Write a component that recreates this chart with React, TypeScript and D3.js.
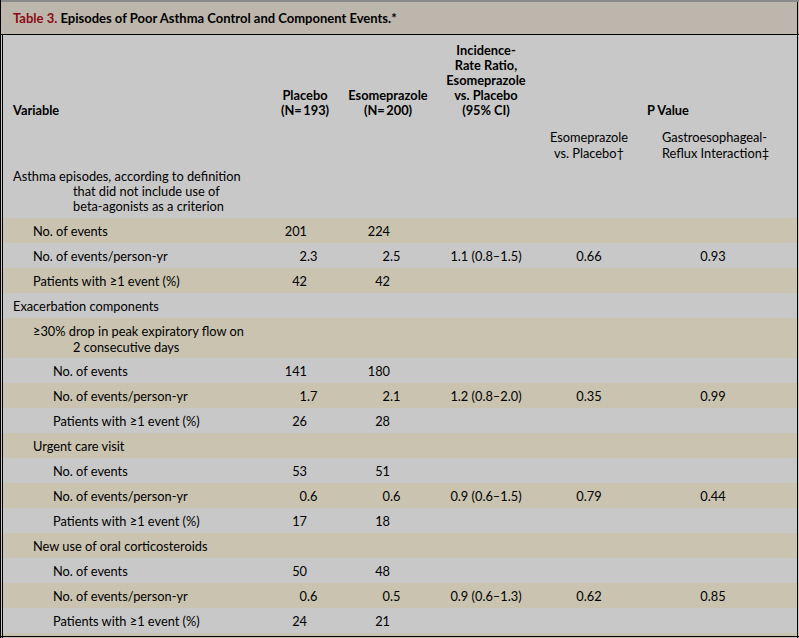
import React from "react";
import * as d3 from "d3";

const titleLabel = "Table 3.";
const titleText = "Episodes of Poor Asthma Control and Component Events.*";

const rowLabels: string[][] = [
  ["Asthma episodes, according to definition", "that did not include use of", "beta-agonists as a criterion"],
  ["No. of events"],
  ["No. of events/person-yr"],
  ["Patients with \u22651 event (%)"],
  ["Exacerbation components"],
  ["\u226530% drop in peak expiratory flow on", "2 consecutive days"],
  ["No. of events"],
  ["No. of events/person-yr"],
  ["Patients with \u22651 event (%)"],
  ["Urgent care visit"],
  ["No. of events"],
  ["No. of events/person-yr"],
  ["Patients with \u22651 event (%)"],
  ["New use of oral corticosteroids"],
  ["No. of events"],
  ["No. of events/person-yr"],
  ["Patients with \u22651 event (%)"],
];
const rowLevels = [0, 1, 1, 1, 0, 1, 2, 2, 2, 1, 2, 2, 2, 1, 2, 2, 2];
const placeboValues = ["", "201", "2.3", "42", "", "", "141", "1.7", "26", "", "53", "0.6", "17", "", "50", "0.6", "24"];
const esomeprazoleValues = ["", "224", "2.5", "42", "", "", "180", "2.1", "28", "", "51", "0.6", "18", "", "48", "0.5", "21"];
const irrValues = ["", "", "1.1 (0.8\u20131.5)", "", "", "", "", "1.2 (0.8\u20132.0)", "", "", "", "0.9 (0.6\u20131.5)", "", "", "", "0.9 (0.6\u20131.3)", ""];
const pEsoValues = ["", "", "0.66", "", "", "", "", "0.35", "", "", "", "0.79", "", "", "", "0.62", ""];
const pGerdValues = ["", "", "0.93", "", "", "", "", "0.99", "", "", "", "0.44", "", "", "", "0.85", ""];

const headPlacebo = ["Placebo", "(N=\u2009193)"];
const headEso = ["Esomeprazole", "(N=\u2009200)"];
const headIrr = ["Incidence-", "Rate Ratio,", "Esomeprazole", "vs. Placebo", "(95% CI)"];
const headP = "P Value";
const headPEso = ["Esomeprazole", "vs. Placebo\u2020"];
const headPGerd = ["Gastroesophageal-", "Reflux Interaction\u2021"];

const FONT = "Lato, 'DejaVu Sans', sans-serif";
const TAN = "#c9c3b0";
const GRAY = "#c8c8c8";
const BAND = "#bdb6ac";

export default function App() {
  const W = 799, H = 638;
  const rowH = rowLabels.map((l, i) => (i === 0 ? 56 : l.length === 1 ? 25 : 40));
  const tops: number[] = [];
  let acc = 162;
  rowH.forEach((h) => { tops.push(acc); acc += h; });
  const bodyEnd = acc;

  const xLevel = d3.scaleLinear().domain([0, 1]).range([13, 33]);
  const colPlacebo = 307;
  const colEso = 390;
  const colIrr = 486;
  const colPEso = 589;
  const colPGerd = 713;
  const fs = 12.8;

  const decimal = (v: string, x: number, y: number, key: string) => {
    if (!v) return null;
    const [a, b] = v.split(".");
    return (
      <g key={key}>
        <text x={x} y={y} textAnchor="end">{a}</text>
        {b !== undefined && <text x={x} y={y} textAnchor="start">{"." + b}</text>}
      </g>
    );
  };

  return (
    <svg width={W} height={H} style={{ position: "absolute", left: 0, top: 0 }} fontFamily={FONT} fontSize={fs} fill="#000">
      <rect x={0} y={0} width={W} height={H} fill={GRAY} />
      <rect x={0} y={0} width={W} height={34} fill={BAND} />
      <rect x={0} y={0} width={W} height={2} fill="#8a8a8a" />
      <line x1={0} x2={W} y1={34.5} y2={34.5} stroke="#000" />
      {rowLabels.map((_, i) => (i % 2 === 1 ? <rect key={"s" + i} x={0} y={tops[i]} width={W} height={rowH[i]} fill={TAN} /> : null))}
      <rect x={0} y={bodyEnd} width={W} height={H - bodyEnd} fill={TAN} />
      <text x={13} y={23} fontWeight="bold" fontSize={13}>
        <tspan fill="#8b0a14">{titleLabel}</tspan>
        <tspan fill="#000">{" " + titleText}</tspan>
      </text>
      <g fontWeight="bold">
        <text x={13} y={115}>Variable</text>
        {headPlacebo.map((t, i) => <text key={"hp" + i} x={305} y={100 + i * 15} textAnchor="middle">{t}</text>)}
        {headEso.map((t, i) => <text key={"he" + i} x={388} y={100 + i * 15} textAnchor="middle">{t}</text>)}
        {headIrr.map((t, i) => <text key={"hi" + i} x={486} y={55 + i * 15} textAnchor="middle">{t}</text>)}
        <text x={668} y={115} textAnchor="middle">{headP}</text>
      </g>
      {headPEso.map((t, i) => <text key={"pe" + i} x={589} y={142 + i * 15.5} textAnchor="middle">{t}</text>)}
      {headPGerd.map((t, i) => <text key={"pg" + i} x={662} y={142 + i * 15.5}>{t}</text>)}
      {rowLabels.map((lines, i) => {
        const n = lines.length;
        const mid = tops[i] + rowH[i] / 2;
        const lh = i === 0 ? 15 : 16;
        const first = mid - ((n - 1) * lh) / 2 + 5.5;
        const x0 = xLevel(rowLevels[i]);
        return (
          <g key={"r" + i}>
            {lines.map((t, j) => (
              <text key={j} x={j === 0 ? x0 : 73} y={first + j * lh}>{t}</text>
            ))}
            {decimal(placeboValues[i], colPlacebo, first, "p" + i)}
            {decimal(esomeprazoleValues[i], colEso, first, "e" + i)}
            {irrValues[i] && <text x={colIrr} y={first} textAnchor="middle">{irrValues[i]}</text>}
            {pEsoValues[i] && <text x={colPEso} y={first} textAnchor="middle">{pEsoValues[i]}</text>}
            {pGerdValues[i] && <text x={colPGerd} y={first} textAnchor="middle">{pGerdValues[i]}</text>}
          </g>
        );
      })}
      <line x1={0.5} x2={0.5} y1={0} y2={H} stroke="#000" />
      <line x1={2.5} x2={2.5} y1={35} y2={H} stroke="#000" />
      <line x1={797.5} x2={797.5} y1={2} y2={H} stroke="#000" />
      <line x1={0} x2={W} y1={636.5} y2={636.5} stroke="#000" />
    </svg>
  );
}
